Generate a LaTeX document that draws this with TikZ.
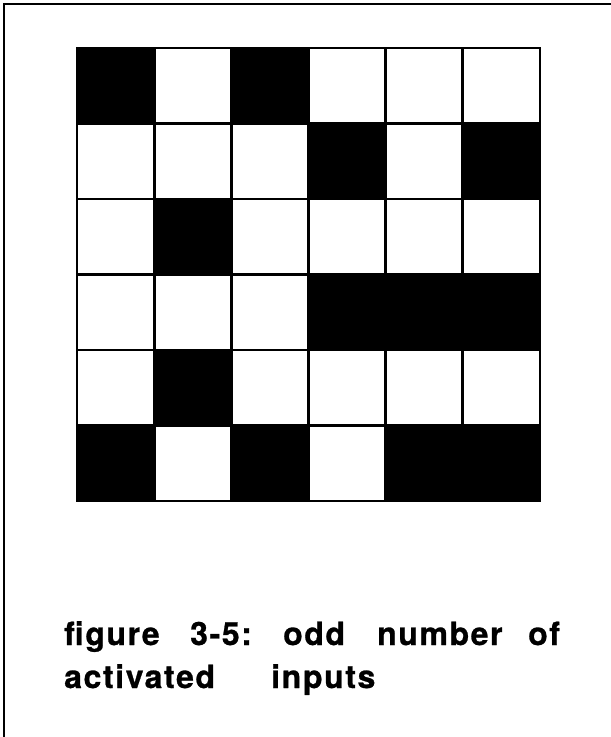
\documentclass[tikz,border=0pt]{standalone}
\usepackage{fontspec}
\newfontfamily\capfont[LetterSpace=5,BoldFeatures={FakeBold=0.8}]{TeX Gyre Heros}
\begin{document}
\begin{tikzpicture}[x=1pt,y=-1pt,
  frameline/.style={line width=2.4pt,black},
  gridline/.style={line width=2.8pt,black,line cap=rect},
  blackcell/.style={fill=black},
  word/.style={inner sep=0pt,anchor=base west,font=\capfont\bfseries\fontsize{32}{38}\selectfont}]
\useasboundingbox (0,0) rectangle (611,737);
\fill[white] (0,0) rectangle (611,737);
% outer frame (only top and left visible)
\draw[frameline] (4,745) -- (4,4) -- (620,4);
% grid geometry
\def\gx{77}\def\gy{48}\def\cw{77.17}\def\ch{75.5}
% black cells: (col,row)
\foreach \c/\r in {0/0,2/0,3/1,5/1,1/2,3/3,4/3,5/3,1/4,0/5,2/5,4/5,5/5}{
  \fill[blackcell] ({\gx+\c*\cw},{\gy+\r*\ch}) rectangle ({\gx+(\c+1)*\cw},{\gy+(\r+1)*\ch});
}
% grid lines
\foreach \i in {0,...,6}{
  \draw[gridline] ({\gx+\i*\cw},\gy) -- ({\gx+\i*\cw},{\gy+6*\ch});
  \draw[gridline] (\gx,{\gy+\i*\ch}) -- ({\gx+6*\cw},{\gy+\i*\ch});
}
% caption
\node[word] (w1) at (64,645) {figure};
\node[word] (w2) at (190,645) {3-5:};
\node[word] (w3) at (283,645) {odd};
\node[word] (w4) at (377,645) {number};
\node[word] (w5) at (528,645) {of};
\node[word] (w6) at (64,688) {activated};
\node[word] (w7) at (271,688) {inputs};
\end{tikzpicture}
\end{document}
